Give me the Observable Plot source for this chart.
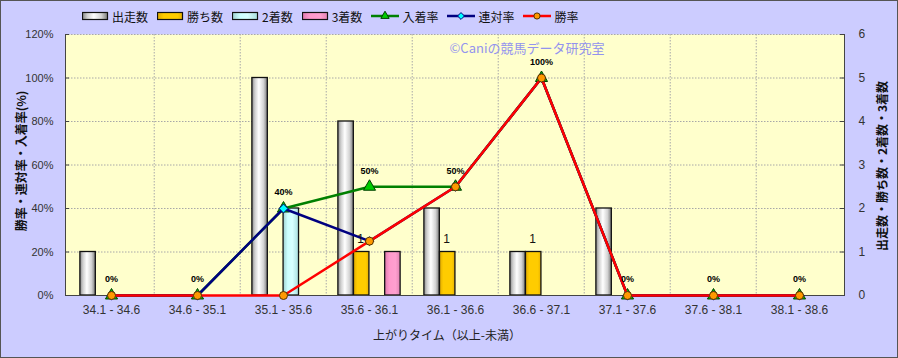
<!DOCTYPE html>
<html><head><meta charset="utf-8">
<script src="https://cdn.jsdelivr.net/npm/d3@7"></script>
<script src="https://cdn.jsdelivr.net/npm/@observablehq/plot@0.6"></script>
<style>
body{margin:0;background:#fff;}
#wrap{position:relative;width:898px;height:358px;box-sizing:border-box;border:1px solid #555;background:#ccccff;font-family:"Liberation Sans","Noto Sans CJK JP",sans-serif;overflow:hidden;}
#legend{position:relative;height:22px;display:flex;align-items:center;gap:9px;padding-left:81px;padding-top:8px;box-sizing:border-box;font-family:"Noto Sans CJK JP",sans-serif;font-size:12px;color:#111;}
.item{display:flex;align-items:center;white-space:nowrap;}
.item svg{margin-right:3px;display:block;}
#chart svg{display:block;}
</style>
</head><body>
<div id="wrap"><div id="legend"></div><div id="chart"></div></div>
<script>
// ---- data ----
const categories = ["34.1 - 34.6","34.6 - 35.1","35.1 - 35.6","35.6 - 36.1","36.1 - 36.6","36.6 - 37.1","37.1 - 37.6","37.6 - 38.1","38.1 - 38.6"];
const runs    = [1,0,5,4,2,1,2,0,0];   // 出走数
const wins    = [0,0,0,1,1,1,0,0,0];   // 勝ち数
const seconds = [0,0,2,0,0,0,0,0,0];   // 2着数
const thirds  = [0,0,0,1,0,0,0,0,0];   // 3着数
const placeRate  = [0,0,40,50,50,100,0,0,0];  // 入着率 %
const rentaiRate = [0,0,40,25,50,100,0,0,0];  // 連対率 %
const winRate    = [0,0,0,25,50,100,0,0,0];   // 勝率 %
const pctTicks   = [0,20,40,60,80,100,120];
const countTicks = [0,1,2,3,4,5,6];

const k = 120 / 6; // count -> percent axis factor
const rows = categories.map((c,i)=>({c, runs:runs[i], wins:wins[i], seconds:seconds[i], thirds:thirds[i],
  place:placeRate[i], rentai:rentaiRate[i], win:winRate[i]}));

const W=896, H=334, mL=64, mR=53, mT=11, mB=62;
const fw = W-mL-mR;
const bw = fw/categories.length;
const barW = 16, step = 15.6;
const inset = (bw-barW)/2;

const barSeries = [
  {name:"出走数", key:"runs", fill:"url(#gRun)", off:-1.5},
  {name:"勝ち数", key:"wins", fill:"url(#gWin)", off:-0.5},
  {name:"2着数", key:"seconds", fill:"url(#g2nd)", off:0.5},
  {name:"3着数", key:"thirds", fill:"url(#g3rd)", off:1.5}
];
const lineSeries = [
  {name:"入着率", key:"place", stroke:"#008000", symbol:"triangle", mfill:"#00cc00", mstroke:"#004000", r:4.5},
  {name:"連対率", key:"rentai", stroke:"#000080", symbol:"diamond2", mfill:"#00ffff", mstroke:"#000080", r:4},
  {name:"勝率", key:"win", stroke:"#ff0000", symbol:"circle", mfill:"#ff9900", mstroke:"#553300", r:4}
];

const marks = [
  Plot.frame({fill:"#ffffcc", stroke:null}),
  Plot.ruleY(pctTicks.slice(1), {stroke:"#a8a8a8", strokeDasharray:"1.5,1.5", strokeWidth:1}),
  Plot.ruleX(categories.slice(1), {x:d=>d, dx:-bw/2, stroke:"#a8a8a8", strokeDasharray:"1.5,1.5", strokeWidth:1}),
];
for (const s of barSeries) {
  marks.push(Plot.barY(rows, {x:"c", y:d=>d[s.key]*k, dx:s.off*step, insetLeft:inset, insetRight:inset,
    fill:s.fill, stroke:"#111", strokeWidth:1.3}));
}
marks.push(
  Plot.ruleY([0], {stroke:"#444", strokeWidth:1}),
  Plot.frame({anchor:"left", stroke:"#444"}),
  Plot.frame({anchor:"right", stroke:"#444"}),
  Plot.tickY(pctTicks, {y:d=>d, insetRight:fw-4, stroke:"#444"}),
  Plot.tickY(pctTicks, {y:d=>d, insetLeft:fw-4, stroke:"#444"})
);
for (const s of lineSeries) {
  marks.push(Plot.line(rows, {x:"c", y:s.key, stroke:s.stroke, strokeWidth:2.5}));
  marks.push(Plot.dot(rows, {x:"c", y:s.key, symbol:s.symbol, r:s.r, fill:s.mfill, stroke:s.mstroke, strokeWidth:1}));
}
marks.push(
  Plot.text(rows, {x:"c", y:"place", text:d=>d.place+"%", dy:-16, fontSize:9, fontWeight:"bold", fill:"#000"}),
  Plot.text(rows.filter(d=>d.wins>0), {x:"c", y:d=>d.wins*k, text:d=>String(d.wins), dx:-step/2-1, dy:-13, fontSize:12, fill:"#111"}),
  Plot.text(["©Caniの競馬データ研究室"], {frameAnchor:"top", dx:72, dy:14, lineAnchor:"middle", fill:"#9393ee", fontSize:13, fontFamily:"Noto Sans CJK JP"}),
  Plot.axisY({ticks:pctTicks, anchor:"left", tickSize:0, tickPadding:12, tickFormat:d=>d+"%", label:null, fontSize:11, fill:"#333"}),
  Plot.axisY({ticks:pctTicks, anchor:"right", tickSize:0, tickPadding:14, tickFormat:d=>String(d/k), label:null, fontSize:12, fill:"#333"}),
  Plot.axisX({anchor:"bottom", tickSize:0, tickPadding:10, label:null, fontSize:12, fill:"#333"}),
  Plot.text(["勝率・連対率・入着率(%)"], {frameAnchor:"left", textAnchor:"middle", rotate:-90, dx:-43, dy:-4, fontSize:12, fontWeight:"bold", fill:"#111", fontFamily:"Noto Sans CJK JP"}),
  Plot.text(["出走数・勝ち数・2着数・3着数"], {frameAnchor:"right", textAnchor:"middle", rotate:-90, dx:39, dy:1, fontSize:12, fontWeight:"bold", fill:"#111", fontFamily:"Noto Sans CJK JP"}),
  Plot.text(["上がりタイム（以上-未満）"], {frameAnchor:"bottom", dx:-8, dy:44, fontSize:12, fill:"#222", fontFamily:"Noto Sans CJK JP"})
);

const plot = Plot.plot({
  width:W, height:H, marginLeft:mL, marginRight:mR, marginTop:mT, marginBottom:mB,
  x:{type:"band", domain:categories, padding:0, axis:null},
  y:{domain:[0,120], axis:null},
  style:{background:"transparent", overflow:"visible", fontFamily:"Liberation Sans, Noto Sans CJK JP, sans-serif"},
  marks
});

const defsHTML = `
<linearGradient id="gRun" x1="0" x2="1" y1="0" y2="0">
 <stop offset="0" stop-color="#8a8a8a"/><stop offset="0.2" stop-color="#d0d0d0"/><stop offset="0.45" stop-color="#ffffff"/><stop offset="0.75" stop-color="#d4d4d4"/><stop offset="1" stop-color="#7c7c7c"/>
</linearGradient>
<linearGradient id="gWin" x1="0" x2="1" y1="0" y2="0">
 <stop offset="0" stop-color="#e0aa00"/><stop offset="0.25" stop-color="#ffcc00"/><stop offset="0.8" stop-color="#ffcc00"/><stop offset="1" stop-color="#e6b000"/>
</linearGradient>
<linearGradient id="g2nd" x1="0" x2="1" y1="0" y2="0">
 <stop offset="0" stop-color="#9fd0d0"/><stop offset="0.3" stop-color="#ccffff"/><stop offset="0.6" stop-color="#d8ffff"/><stop offset="1" stop-color="#a8dede"/>
</linearGradient>
<linearGradient id="g3rd" x1="0" x2="1" y1="0" y2="0">
 <stop offset="0" stop-color="#e07aae"/><stop offset="0.3" stop-color="#ff99cc"/><stop offset="0.7" stop-color="#ff9fcf"/><stop offset="1" stop-color="#e283b3"/>
</linearGradient>`;
const defs = document.createElementNS("http://www.w3.org/2000/svg","defs");
defs.innerHTML = defsHTML;
plot.insertBefore(defs, plot.firstChild);
document.getElementById("chart").appendChild(plot);

// legend
const legend = d3.select("#legend");
for (const s of barSeries) {
  const it = legend.append("div").attr("class","item");
  const sv = it.append("svg").attr("width",27).attr("height",10);
  sv.append("rect").attr("x",0.5).attr("y",1.5).attr("width",25).attr("height",7).attr("fill",s.fill).attr("stroke","#111").attr("stroke-width",1.2);
  it.append("span").text(s.name);
}
const symMap = {triangle:d3.symbolTriangle, diamond2:d3.symbolDiamond2, circle:d3.symbolCircle};
for (const s of lineSeries) {
  const it = legend.append("div").attr("class","item");
  const sv = it.append("svg").attr("width",28).attr("height",12);
  sv.append("line").attr("x1",0).attr("x2",28).attr("y1",6).attr("y2",6).attr("stroke",s.stroke).attr("stroke-width",2.5);
  sv.append("path").attr("transform","translate(14,6)").attr("d", d3.symbol(symMap[s.symbol], 30)()).attr("fill",s.mfill).attr("stroke",s.mstroke);
  it.append("span").text(s.name);
}
</script>
</body></html>
